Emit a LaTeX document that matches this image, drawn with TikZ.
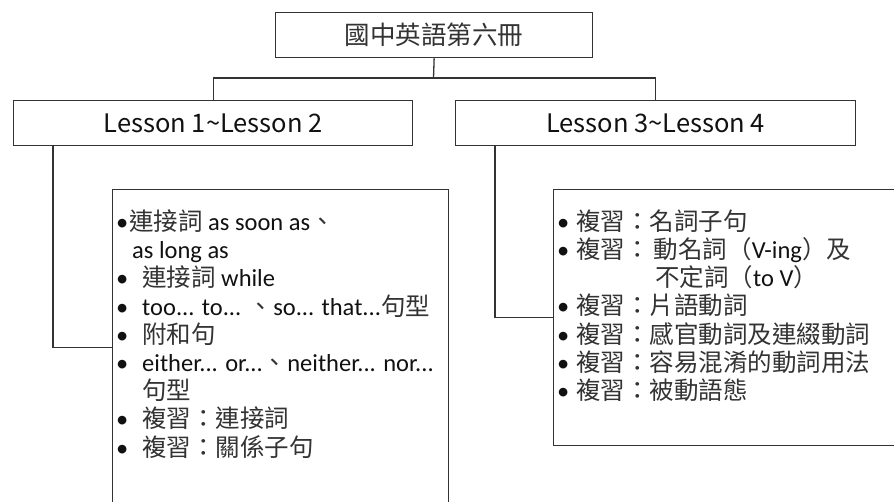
\documentclass[tikz,border=0pt]{standalone}
\usepackage{fontspec}
\setmainfont{Carlito}
\newfontfamily\cjk{Noto Sans CJK TC}
\definecolor{linec}{HTML}{333333}
\definecolor{textc}{HTML}{111111}
\definecolor{cjkc}{HTML}{333333}
\newcommand{\bul}[1]{\makebox[#1][l]{•}}
\newcommand{\cj}[1]{{\cjk\color{cjkc}#1}}
\tikzset{
  x=1pt, y=-1pt,
  boxnode/.style={draw=linec, line width=1.3pt, rectangle, inner sep=0pt, anchor=north west},
  conn/.style={draw=linec, line width=1.3pt},
  titletext/.style={text=textc, font=\cjk\fontsize{25.5}{30}\selectfont},
  listtext/.style={text=textc, font=\fontsize{24.5}{28.2}\selectfont, align=left, inner sep=0pt, anchor=north west}
}
\begin{document}
\begin{tikzpicture}
\useasboundingbox (0,0) rectangle (894,502);
\clip (0,0) rectangle (894,502);
\fill[white] (0,0) rectangle (894,502);
% title boxes
\node[boxnode, minimum width=317pt, minimum height=45pt, titletext] (top) at (275,12) {\color{cjkc}國中英語第六冊};
\node[boxnode, minimum width=399pt, minimum height=45pt, titletext] (l12) at (13,100) {Lesson 1\textasciitilde Lesson 2};
\node[boxnode, minimum width=400pt, minimum height=45pt, titletext] (l34) at (455,100) {Lesson 3\textasciitilde Lesson 4};
\coordinate (bus) at (433.5,78);
\draw[conn] (top.south) -- (bus);
\draw[conn] (l12.north) |- (bus);
\draw[conn] (l34.north) |- (bus);
% content boxes
\node[boxnode, minimum width=336pt, minimum height=316pt] (list1) at (112,189) {};
\node[boxnode, minimum width=360pt, minimum height=256pt] (list2) at (553,189) {};
\coordinate (d1) at (53,145);
\coordinate (d2) at (495,145);
\draw[conn] (d1) |- (list1.west);
\draw[conn] (d2) |- (list2.west);
% texts
\node[listtext] (t1) at (116,209.5) {%
\bul{13pt}\cj{連接詞} as soon as\cj{、}\\
\hspace*{16pt}as long as\\
\bul{26pt}\cj{連接詞} while\\
\bul{26pt}too... to... \cj{、}so... that...\cj{句型}\\
\bul{26pt}\cj{附和句}\\
\bul{26pt}either... or...\cj{、}neither... nor...\\
\hspace*{26pt}\cj{句型}\\
\bul{26pt}\cj{複習：連接詞}\\
\bul{26pt}\cj{複習：關係子句}};
\node[listtext] (t2) at (557,209.5) {%
\bul{19pt}\cj{複習：名詞子句}\\
\bul{19pt}\cj{複習：}\,\cj{動名詞（}V-ing\cj{）及}\\
\hspace*{98pt}\cj{不定詞（}to V\cj{）}\\
\bul{19pt}\cj{複習：片語動詞}\\
\bul{19pt}\cj{複習：感官動詞及連綴動詞}\\
\bul{19pt}\cj{複習：容易混淆的動詞用法}\\
\bul{19pt}\cj{複習：被動語態}};
\end{tikzpicture}
\end{document}
